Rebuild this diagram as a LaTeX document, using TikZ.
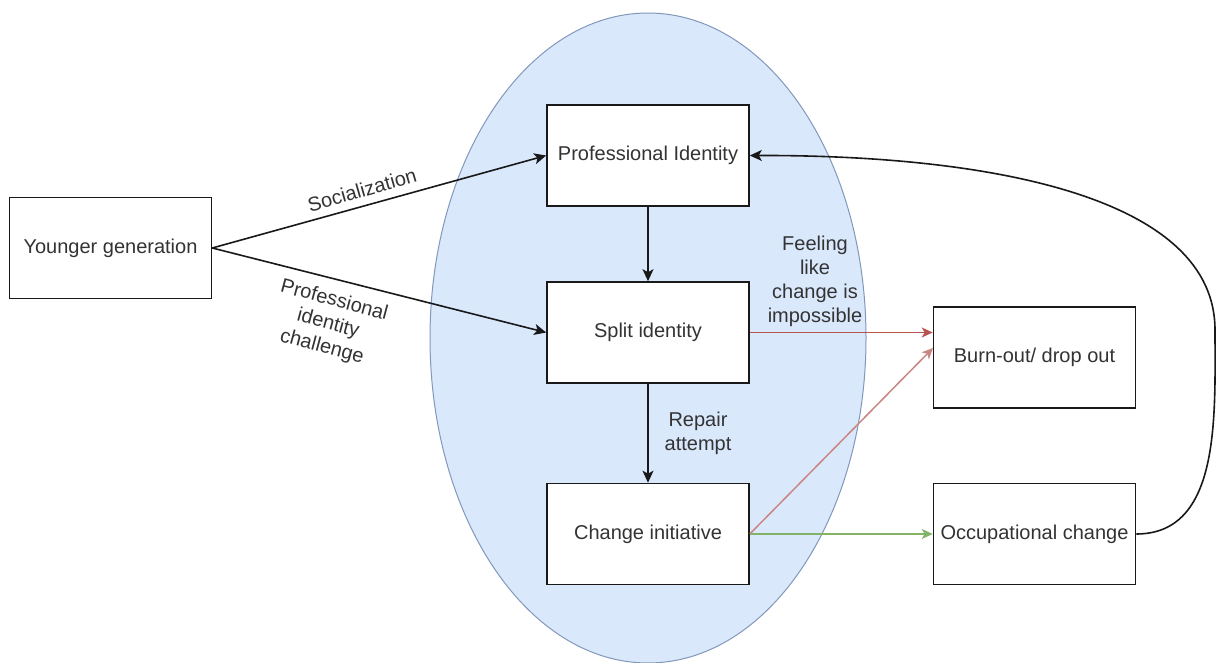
\documentclass[tikz,border=0pt]{standalone}
\usepackage{fontspec}
\setmainfont{Liberation Sans}
\usetikzlibrary{arrows.meta}
\definecolor{txt}{HTML}{333333}
\definecolor{ellfill}{HTML}{DAE8FC}
\definecolor{elldraw}{HTML}{8298BB}
\definecolor{redA}{HTML}{B85450}
\definecolor{redB}{HTML}{C98682}
\definecolor{greenA}{HTML}{82B366}
\tikzset{
  box/.style={draw=black!90, line width=1.6pt, fill=white, minimum width=202pt, minimum height=101pt, inner sep=0pt, text=txt, font=\fontsize{20}{24}\selectfont},
  lbl/.style={text=txt, font=\fontsize{20}{24}\selectfont, align=center, inner sep=0pt},
  blk/.style={draw=black!90, line width=1.6pt, -{Stealth[length=12pt,width=11pt,inset=3pt]}},
  redarr/.style={draw=redA, line width=1.2pt, -{Stealth[length=11pt,width=10pt,inset=3pt]}},
  redarr2/.style={draw=redB, line width=1.5pt, -{Stealth[length=11pt,width=10pt,inset=3pt]}},
  grnarr/.style={draw=greenA, line width=1.2pt, -{Stealth[length=11pt,width=10pt,inset=3pt]}},
}
\begin{document}
\begin{tikzpicture}[x=1pt,y=-1pt]
\useasboundingbox (0,0) rectangle (1216,663);
\fill[white] (0,0) rectangle (1216,663);
\draw[fill=ellfill, draw=elldraw, line width=1pt] (648,338) ellipse [x radius=218, y radius=325];

\node[box] (yg) at (110.5,248) {Younger generation};
\node[box] (pi) at (648,155.5) {Professional Identity};
\node[box] (si) at (648,332.5) {Split identity};
\node[box] (ci) at (648,534) {Change initiative};
\node[box] (bo) at (1034.5,357.5) {Burn-out/ drop out};
\node[box] (oc) at (1034.5,534) {Occupational change};

\draw[blk] (yg.east) -- (pi.west);
\draw[blk] (yg.east) -- (si.west);
\draw[blk] (pi.south) -- (si.north);
\draw[blk] (si.south) -- (ci.north);
\draw[redarr] (si.east) -- (bo.west |- si.east);
\coordinate (botgt) at (933,348);
\draw[redarr2] (ci.east) -- (botgt);
\draw[grnarr] (ci.east) -- (oc.west);
\coordinate (loop) at (1215,330);
\draw[blk] (oc.east) .. controls (1221,534) and (1215,416) .. (loop)
  .. controls (1215,200) and (1000,155) .. (pi.east);

\node[lbl, rotate=16] (lsoc) at (362,190) {Socialization};
\node[lbl, rotate=-15] (lpic) at (328,324) {Professional\\identity\\challenge};
\node[lbl] (lfeel) at (815,281) {Feeling\\like\\change is\\impossible};
\node[lbl] (lrep) at (698,433.5) {Repair\\attempt};
\end{tikzpicture}
\end{document}
